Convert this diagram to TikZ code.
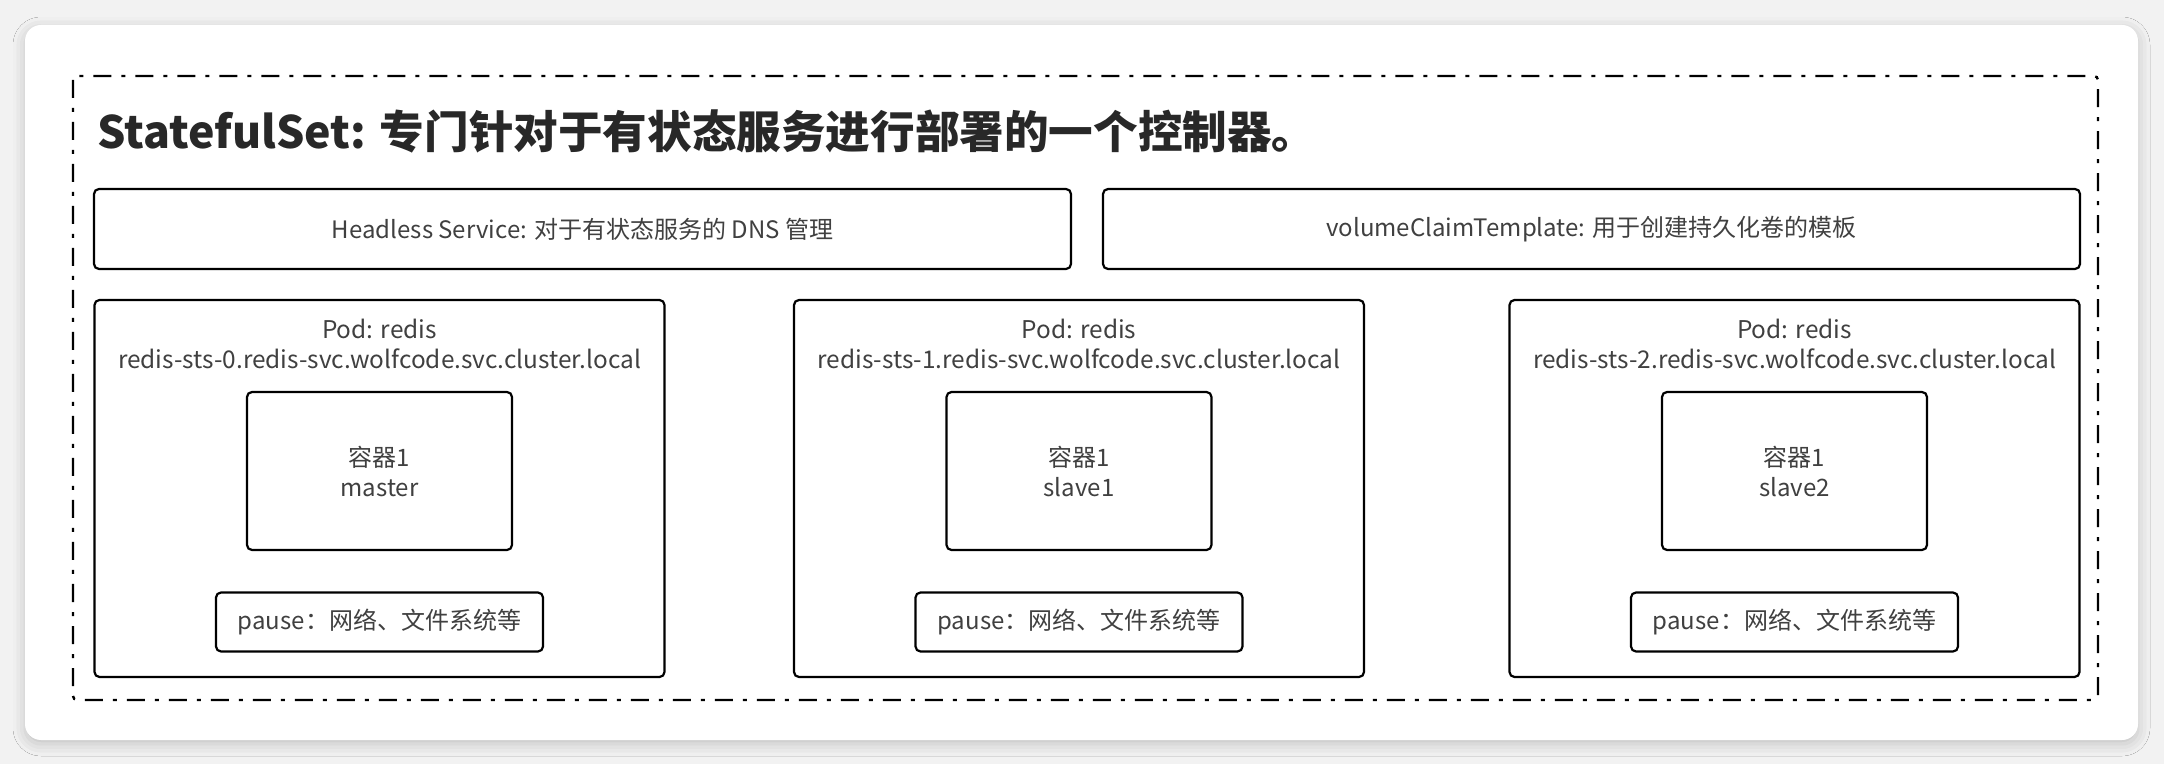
\documentclass[tikz,border=0pt]{standalone}
\usepackage{fontspec}
\setmainfont{Noto Sans CJK SC}
\usetikzlibrary{positioning, shadows.blur}

\definecolor{pagegray}{HTML}{F2F2F2}
\definecolor{txtgray}{HTML}{404040}
\definecolor{titlegray}{HTML}{282828}

\tikzset{
	box/.style={draw=black, line width=1.1pt, rounded corners=2.5pt, fill=white, text=txtgray, font=\fontsize{12}{15}\selectfont},
	podbox/.style={box, minimum width=285pt, minimum height=188.5pt},
	ctrbox/.style={box, minimum width=132.5pt, minimum height=79pt, align=center},
	pausebox/.style={box, minimum width=163.5pt, minimum height=29.5pt},
	svcbox/.style={box, minimum width=488.5pt, minimum height=40pt},
	podlabel/.style={align=center, inner sep=0pt, text=txtgray, font=\fontsize{12.2}{15}\selectfont},
}

\begin{document}
\begin{tikzpicture}[x=0.5pt, y=-0.5pt]
		\useasboundingbox (0,0) rectangle (2164,764);
		% Page and card
		\fill[pagegray] (0,0) rectangle (2164,764);
		\fill[white, rounded corners=8pt, blur shadow={shadow xshift=0pt, shadow yshift=-2pt, shadow blur radius=6pt, shadow opacity=20}] (25,25) rectangle (2138,740);
		
		% StatefulSet frame
		\draw[line width=1.2pt, rounded corners=2pt, dash pattern=on 9pt off 5pt on 2pt off 5pt] (73,76) rectangle (2098,700);
		\node[anchor=base west, inner sep=0pt, text=titlegray, font=\fontsize{22.3}{26}\selectfont\bfseries] (title) at (97,149) {StatefulSet: 专门针对于有状态服务进行部署的一个控制器。};
		
		% Service and volume template
		\node[svcbox] (svc) at (582.5,229) {Headless Service: 对于有状态服务的 DNS 管理};
		\node[svcbox] (vct) at (1591.5,229) {volumeClaimTemplate: 用于创建持久化卷的模板};
		
		% Pods
		\node[podbox] (pod0) at (379.5,488.5) {};
		\node[podbox] (pod1) at (1079,488.5) {};
		\node[podbox] (pod2) at (1794.5,488.5) {};
		
		\node[podlabel] (lbl0) at (379.5,343.5) {Pod: redis\\redis-sts-0.redis-svc.wolfcode.svc.cluster.local};
		\node[podlabel] (lbl1) at (1079,343.5) {Pod: redis\\redis-sts-1.redis-svc.wolfcode.svc.cluster.local};
		\node[podlabel] (lbl2) at (1794.5,343.5) {Pod: redis\\redis-sts-2.redis-svc.wolfcode.svc.cluster.local};
		
		% Containers
		\node[ctrbox] (ctr0) at (379.5,471) {容器1\\master};
		\node[ctrbox] (ctr1) at (1079,471) {容器1\\slave1};
		\node[ctrbox] (ctr2) at (1794.5,471) {容器1\\slave2};
		
		\node[pausebox] (pause0) at (379.5,622) {pause：网络、文件系统等};
		\node[pausebox] (pause1) at (1079,622) {pause：网络、文件系统等};
		\node[pausebox] (pause2) at (1794.5,622) {pause：网络、文件系统等};
\end{tikzpicture}
\end{document}
